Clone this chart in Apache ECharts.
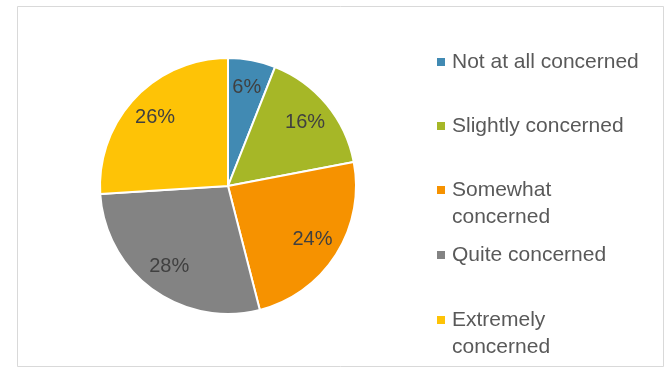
<!DOCTYPE html>
<html>
<head>
<meta charset="utf-8">
<script src="https://cdn.jsdelivr.net/npm/echarts@6/dist/echarts.min.js"></script>
<style>
  html, body { margin: 0; padding: 0; background: #fff; }
  #chart { width: 666px; height: 368px; }
</style>
</head>
<body>
<div id="chart"></div>
<script>
// concern levels, clockwise from 12 o'clock
const categories = ['Not at all concerned', 'Slightly concerned', 'Somewhat concerned', 'Quite concerned', 'Extremely concerned']
const shares = [6, 16, 24, 28, 26]
const legendText = ['Not at all concerned', 'Slightly concerned', 'Somewhat\nconcerned', 'Quite concerned', 'Extremely\nconcerned']
const colors = ['#418AB3', '#A6B727', '#F69200', '#838383', '#FEC306']

const font = '"Liberation Sans", Arial, sans-serif'
const lineH = 27.5
// y centre of each legend marker
const legendY = [62, 126, 190, 255, 320]

const pieData = categories.map((name, i) => ({ name: name, value: shares[i] }))

const legends = categories.map((name, i) => {
  const twoLine = legendText[i].indexOf('\n') >= 0
  return {
    data: [name],
    left: 435,
    top: twoLine ? legendY[i] - lineH * 1.5 : legendY[i] - lineH / 2,
    padding: 0,
    icon: 'rect',
    itemWidth: 10,
    itemHeight: 10,
    selectedMode: false,
    // blank first line keeps the marker level with the first text line
    formatter: () => twoLine ? '\n' + legendText[i] : legendText[i],
    textStyle: {
      fontFamily: font,
      fontSize: 21,
      color: '#595959',
      lineHeight: lineH,
      padding: [0, 0, 0, 1]
    }
  }
})

const chart = echarts.init(document.getElementById('chart'))
chart.setOption({
  backgroundColor: '#fff',
  color: colors,
  animation: false,
  graphic: [{
    type: 'rect',
    shape: { x: 17.5, y: 6.5, width: 646, height: 360 },
    style: { fill: 'none', stroke: '#D9D9D9', lineWidth: 1 },
    silent: true
  }],
  legend: legends,
  series: [
    {
      type: 'pie',
      center: [228, 186],
      radius: [0, 128],
      startAngle: 90,
      clockwise: true,
      data: pieData,
      label: { show: false },
      labelLine: { show: false },
      itemStyle: { borderColor: '#fff', borderWidth: 2 },
      emphasis: { disabled: true }
    },
    {
      // transparent ring only used to place the % labels further out
      type: 'pie',
      center: [228, 186],
      radius: [66, 128],
      startAngle: 90,
      clockwise: true,
      silent: true,
      data: pieData,
      itemStyle: { color: 'rgba(0,0,0,0)' },
      label: {
        show: true,
        position: 'inside',
        formatter: '{d}%',
        fontFamily: font,
        fontSize: 20,
        color: '#404040'
      },
      labelLine: { show: false },
      emphasis: { disabled: true }
    }
  ]
})
</script>
</body>
</html>
